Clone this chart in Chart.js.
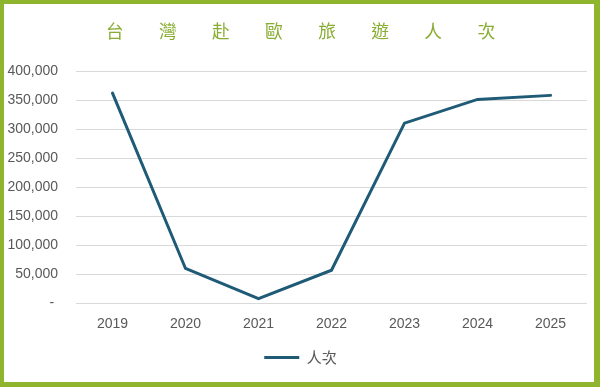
<!DOCTYPE html>
<html>
<head>
<meta charset="utf-8">
<script src="https://cdn.jsdelivr.net/npm/chart.js@4"></script>
<style>
  html, body { margin: 0; padding: 0; background: #fff; }
  #frame {
    box-sizing: border-box;
    width: 600px; height: 387px;
    border-style: solid;
    border-color: #8fb52f;
    border-width: 4px 6px 5px 4px;
    background: #fff;
  }
  #wrap { position: relative; width: 590px; height: 378px; }
</style>
</head>
<body>
<div id="frame"><div id="wrap"><canvas id="tourChart"></canvas></div></div>
<script>
// Data
const years = ['2019', '2020', '2021', '2022', '2023', '2024', '2025'];
const visitors = [363000, 60000, 8000, 57000, 311000, 352000, 359000];
const seriesName = '人次';
const titleChars = ['台', '灣', '赴', '歐', '旅', '遊', '人', '次'];

const lineColor = '#1f5a77';
const textColor = '#595959';

// spaced-out title like the original
const titleText = titleChars.join('\u3000\u3000');

// title and legend sit centred on the whole frame, not the plot
const centreNudge = {
    id: 'centreNudge',
    afterLayout(chart) {
        [chart.titleBlock, chart.legend].forEach(box => {
            box.left += 5;
            box.right += 5;
        });
    }
};

const ctx = document.getElementById('tourChart').getContext('2d');
new Chart(ctx, {
    type: 'line',
    data: {
        labels: years,
        datasets: [{
            label: seriesName,
            data: visitors,
            borderColor: lineColor,
            backgroundColor: lineColor,
            borderWidth: 3,
            borderCapStyle: 'round',
            pointRadius: 0,
            pointHoverRadius: 0,
            tension: 0,
            fill: false
        }]
    },
    options: {
        responsive: true,
        maintainAspectRatio: false,
        animation: false,
        layout: {
            padding: { left: 0, right: 7, top: 0, bottom: 7 }
        },
        plugins: {
            title: {
                display: true,
                text: titleText,
                color: '#89ad33',
                font: { family: '"Noto Sans CJK TC", "Noto Sans CJK SC", sans-serif', size: 17.7, weight: 'normal' },
                padding: { top: 17, bottom: 29.4 }
            },
            legend: {
                position: 'bottom',
                labels: {
                    usePointStyle: true,
                    pointStyle: 'line',
                    pointStyleWidth: 35,
                    color: textColor,
                    padding: 12,
                    font: { family: '"Noto Sans CJK TC", sans-serif', size: 15 }
                }
            },
            tooltip: { enabled: false }
        },
        scales: {
            x: {
                offset: true,
                grid: { display: false },
                border: { display: false },
                ticks: {
                    color: textColor,
                    padding: 5,
                    font: { family: '"Liberation Sans", Arial, sans-serif', size: 14 }
                }
            },
            y: {
                min: 0,
                max: 400000,
                border: { display: false },
                grid: { color: '#d9d9d9', drawTicks: false },
                afterFit: scale => { scale.width = 72; },
                ticks: {
                    stepSize: 50000,
                    color: textColor,
                    padding: 18,
                    font: { family: '"Liberation Sans", Arial, sans-serif', size: 14 },
                    callback: v => v === 0 ? '- ' : v.toLocaleString('en-US')
                }
            }
        }
    },
    plugins: [centreNudge]
});
</script>
</body>
</html>
